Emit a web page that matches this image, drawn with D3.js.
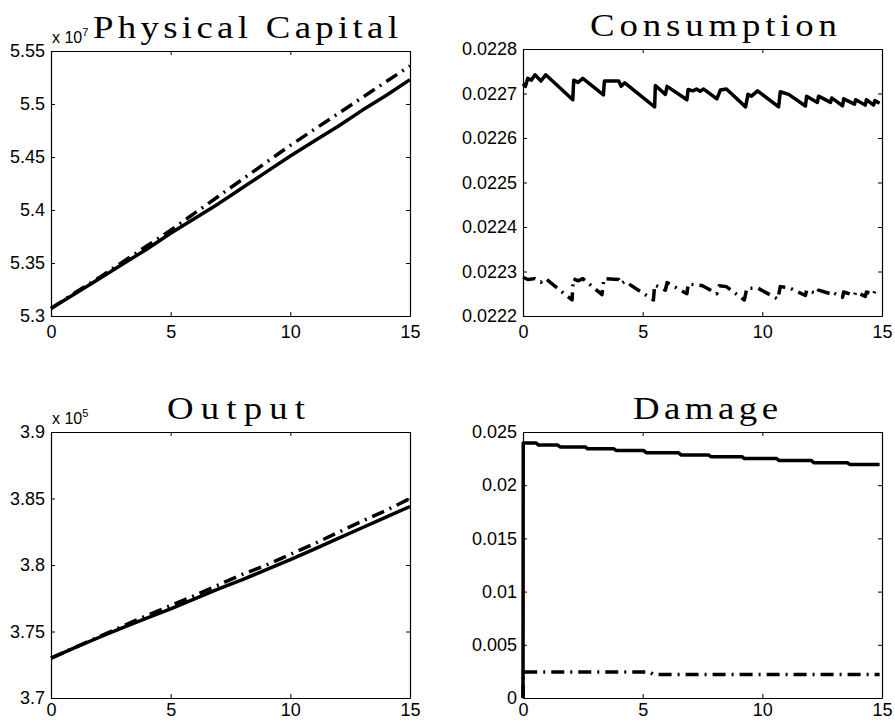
<!DOCTYPE html>
<html>
<head>
<meta charset="utf-8">
<script src="https://cdn.jsdelivr.net/npm/d3@7"></script>
<style>
  body { margin: 0; background: #fff; }
  svg { display: block; }
  .tick text { font-family: "Liberation Sans", Arial, sans-serif; font-size: 18px; fill: #000; }
  .title { font-family: "Liberation Serif", "DejaVu Serif", serif; font-size: 32px; }
  .expo { font-family: "Liberation Sans", Arial, sans-serif; }
</style>
</head>
<body>
<svg width="895" height="720"></svg>
<script>
// physical capital (x 10^7), yearly readings
const capT = [0, 1, 2, 3, 4, 5, 6, 7, 8, 9, 10, 11, 12, 13, 14, 15];
const capSolid = [5.307, 5.321, 5.335, 5.349, 5.363, 5.378, 5.392, 5.406, 5.421, 5.436, 5.451, 5.465, 5.479, 5.494, 5.508, 5.523];
const capDash = [5.307, 5.322, 5.336, 5.351, 5.366, 5.381, 5.397, 5.413, 5.429, 5.445, 5.461, 5.476, 5.491, 5.506, 5.521, 5.536];
const capTicks = [5.3, 5.35, 5.4, 5.45, 5.5, 5.55];
const capLabels = ['5.3', '5.35', '5.4', '5.45', '5.5', '5.55'];

// output (x 10^5)
const outT = [0, 1, 2, 3, 4, 5, 6, 7, 8, 9, 10, 11, 12, 13, 14, 15];
const outSolid = [3.730, 3.7378, 3.7455, 3.753, 3.760, 3.767, 3.7745, 3.782, 3.789, 3.7965, 3.804, 3.812, 3.820, 3.828, 3.836, 3.844];
const outDash = [3.730, 3.738, 3.746, 3.754, 3.762, 3.7695, 3.777, 3.785, 3.793, 3.800, 3.808, 3.816, 3.8245, 3.833, 3.841, 3.850];
const outTicks = [3.7, 3.75, 3.8, 3.85, 3.9];
const outLabels = ['3.7', '3.75', '3.8', '3.85', '3.9'];

// consumption, sawtooth paths
const conSolidT = [0, 0.1, 0.2, 0.35, 0.5, 0.75, 0.95, 2.08, 2.12, 2.3, 2.5, 3.36, 3.4, 4.0, 4.1, 4.25, 5.5, 5.53, 5.95, 6.02, 6.85, 6.9, 7.1, 7.25, 7.4, 7.55, 8.1, 8.25, 8.5, 9.3, 9.4, 9.55, 9.8, 10.68, 10.75, 11.1, 11.8, 11.85, 12.3, 12.35, 12.85, 12.9, 13.35, 13.4, 13.85, 13.9, 14.3, 14.35, 14.65, 14.7, 14.9];
const conSolid = [0.022722, 0.022716, 0.022734, 0.022730, 0.022742, 0.022728, 0.022742, 0.022686, 0.022730, 0.022725, 0.022734, 0.022697, 0.022728, 0.022728, 0.022716, 0.022724, 0.022670, 0.022718, 0.022698, 0.022716, 0.022686, 0.022709, 0.022706, 0.022710, 0.022705, 0.022710, 0.022688, 0.022708, 0.022710, 0.022670, 0.022698, 0.022694, 0.022706, 0.022670, 0.022704, 0.022698, 0.022672, 0.022694, 0.022680, 0.022694, 0.022680, 0.022690, 0.022672, 0.022688, 0.022676, 0.022686, 0.022674, 0.022686, 0.022674, 0.022684, 0.022678];
const conDashT = [0, 0.2, 0.5, 0.75, 0.95, 2.05, 2.1, 2.3, 2.5, 3.3, 3.38, 4.0, 4.1, 4.25, 5.45, 5.5, 5.95, 6.02, 6.85, 6.9, 7.5, 8.1, 8.2, 8.5, 9.25, 9.35, 9.8, 10.65, 10.75, 11.1, 11.8, 11.85, 12.3, 12.35, 12.85, 12.9, 13.35, 13.4, 13.85, 13.9, 14.3, 14.35, 14.65, 14.7, 14.9];
const conDash = [0.022287, 0.022282, 0.022284, 0.022276, 0.022284, 0.022236, 0.022284, 0.022279, 0.022284, 0.022248, 0.022284, 0.022282, 0.022272, 0.022278, 0.022236, 0.022270, 0.022258, 0.022275, 0.022250, 0.022272, 0.022268, 0.022250, 0.022268, 0.022266, 0.022236, 0.022262, 0.022263, 0.022238, 0.022266, 0.022264, 0.022246, 0.022258, 0.022250, 0.022258, 0.022250, 0.022254, 0.022242, 0.022254, 0.022246, 0.022254, 0.022244, 0.022254, 0.022248, 0.022256, 0.022252];
const conTicks = [0.0222, 0.0223, 0.0224, 0.0225, 0.0226, 0.0227, 0.0228];
const conLabels = ['0.0222', '0.0223', '0.0224', '0.0225', '0.0226', '0.0227', '0.0228'];

// damage, staircase
const dmgSolidT = [0, 0.01, 0.55, 0.65, 1.45, 1.55, 2.6, 2.7, 3.8, 3.9, 5.05, 5.15, 6.5, 6.6, 7.75, 7.85, 9.15, 9.25, 10.6, 10.7, 12.05, 12.15, 13.55, 13.65, 14.9];
const dmgSolid = [0, 0.02397, 0.02397, 0.02377, 0.02377, 0.02360, 0.02360, 0.02342, 0.02342, 0.02325, 0.02325, 0.02305, 0.02305, 0.02285, 0.02285, 0.02268, 0.02268, 0.02250, 0.02250, 0.02232, 0.02232, 0.02212, 0.02212, 0.02195, 0.02195];
const dmgDashT = [0, 0.01, 5.3, 5.45, 14.9];
const dmgDash = [0, 0.00244, 0.00244, 0.00222, 0.00222];
const dmgTicks = [0, 0.005, 0.01, 0.015, 0.02, 0.025];
const dmgLabels = ['0', '0.005', '0.01', '0.015', '0.02', '0.025'];

const xTicks = [0, 5, 10, 15];
const xLabels = ['0', '5', '10', '15'];

const panels = [
  {title: 'Physical Capital', tx: 93, tw: 305, left: 51, top: 51, right: 410, bottom: 316, xlab: 9,
   y: [5.3, 5.55], ticks: capTicks, labels: capLabels, expo: '7',
   series: [{t: capT, v: capSolid, dash: null}, {t: capT, v: capDash, dash: '13,6,2,6'}]},
  {title: 'Consumption', tx: 590, tw: 247, left: 523, top: 49, right: 882, bottom: 316, xlab: 9,
   y: [0.0222, 0.0228], ticks: conTicks, labels: conLabels,
   series: [{t: conSolidT, v: conSolid, dash: null}, {t: conDashT, v: conDash, dash: '13,6,2,6'}]},
  {title: 'Output', tx: 167, tw: 138, left: 51, top: 432, right: 410, bottom: 698, xlab: 5,
   y: [3.7, 3.9], ticks: outTicks, labels: outLabels, expo: '5',
   series: [{t: outT, v: outSolid, dash: null}, {t: outT, v: outDash, dash: '13,6,2,6'}]},
  {title: 'Damage', tx: 633, tw: 145, left: 523, top: 432, right: 882, bottom: 698, xlab: 5,
   y: [0, 0.025], ticks: dmgTicks, labels: dmgLabels,
   series: [{t: dmgSolidT, v: dmgSolid, dash: null}, {t: dmgDashT, v: dmgDash, dash: '13,6,2,6'}]},
];

const svg = d3.select('svg');
const titleStretch = 1.15;

function drawPanel(p) {
  const w = p.right - p.left;
  const h = p.bottom - p.top;
  const x = d3.scaleLinear().domain([0, 15]).range([0, w]);
  const y = d3.scaleLinear().domain(p.y).range([h, 0]);
  const g = svg.append('g').attr('transform', `translate(${p.left},${p.top})`);

  // data lines first, box on top
  const line = d3.line().x(d => x(d[0])).y(d => y(d[1]));
  p.series.forEach((s) => {
    g.append('path')
      .datum(s.t.map((t, i) => [t, s.v[i]]))
      .attr('d', line)
      .attr('fill', 'none')
      .attr('stroke', '#000')
      .attr('stroke-width', 3.5)
      .attr('stroke-linejoin', 'round')
      .attr('stroke-dasharray', s.dash);
  });

  const axes = [
    {ax: d3.axisLeft(y).tickValues(p.ticks).tickFormat((d, i) => p.labels[i]), tr: ''},
    {ax: d3.axisRight(y).tickValues(p.ticks).tickFormat(''), tr: `translate(${w},0)`},
    {ax: d3.axisBottom(x).tickValues(xTicks).tickFormat((d, i) => xLabels[i]), tr: `translate(0,${h})`},
    {ax: d3.axisTop(x).tickValues(xTicks).tickFormat(''), tr: ''},
  ];
  axes.forEach((a) => {
    const ag = g.append('g').attr('transform', a.tr)
      .call(a.ax.tickSizeInner(-4).tickSizeOuter(0).tickPadding(6));
    ag.attr('font-family', null).attr('font-size', null);
    ag.select('.domain').attr('stroke', '#000').attr('stroke-width', 1.2);
    ag.selectAll('.tick line').attr('stroke', '#000');
  });
  g.selectAll('.tick text').filter(function() { return this.textContent === ''; }).remove();

  // x labels: matlab puts them a little further from the box
  g.selectAll('.tick text').each(function() {
    const t = d3.select(this);
    if (t.attr('dy') === '0.71em') t.attr('y', p.xlab);
  });

  // latex-style title: wider glyphs plus letter spacing
  svg.append('g')
    .attr('transform', `translate(${p.tx},${p.top - 13}) scale(${titleStretch},1)`)
    .append('text')
    .attr('class', 'title')
    .attr('textLength', p.tw / titleStretch)
    .attr('lengthAdjust', 'spacing')
    .text(p.title);

  if (p.expo) {
    const e = svg.append('text')
      .attr('class', 'expo')
      .attr('x', p.left + 1)
      .attr('y', p.top - 8)
      .attr('font-size', 16);
    e.append('tspan').text('x 10');
    e.append('tspan').attr('font-size', 11).attr('dy', -7).text(p.expo);
  }
}

panels.forEach(drawPanel);
</script>
</body>
</html>
